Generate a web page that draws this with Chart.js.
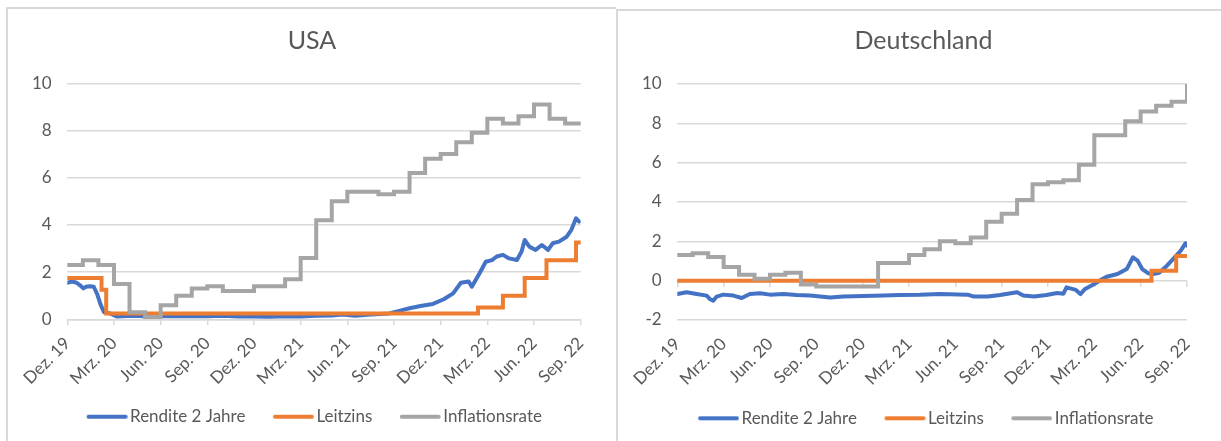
<!DOCTYPE html>
<html lang="de">
<head>
<meta charset="utf-8">
<title>Rendite, Leitzins und Inflation: USA und Deutschland</title>
<script src="https://cdn.jsdelivr.net/npm/chart.js@4.4.1/dist/chart.umd.min.js"></script>
<style>
  html, body { margin: 0; padding: 0; background: #fff; width: 1221px; height: 441px; overflow: hidden; }
  .panel { position: absolute; border: 0 solid #d9d9d9; background: #fff; }
  #panel-usa { left: 6px; top: 7px; border-width: 2px 0 0 2px; }
  #panel-de { left: 616px; top: 9px; border-width: 2px 0 0 2px; }
  canvas { display: block; }
</style>
</head>
<body>
<div class="panel" id="panel-usa"><canvas id="chart-usa" width="608" height="432"></canvas></div>
<div class="panel" id="panel-de"><canvas id="chart-de" width="611" height="430"></canvas></div>
<script>
// x values are months counted from the "Dez. 19" tick
const tickLabels = ['Dez. 19', 'Mrz. 20', 'Jun. 20', 'Sep. 20', 'Dez. 20', 'Mrz. 21',
  'Jun. 21', 'Sep. 21', 'Dez. 21', 'Mrz. 22', 'Jun. 22', 'Sep. 22'];
const seriesNames = ['Rendite 2 Jahre', 'Leitzins', 'Inflationsrate'];
const monthSteps = [0, 1, 2, 3, 4, 5, 6, 7, 8, 9, 10, 11, 12, 13, 14, 15, 16, 17, 18, 19, 20,
  21, 22, 23, 24, 25, 26, 27, 28, 29, 30, 31, 32, 33];

// USA
const usaYieldMonths = [0, 0.3, 0.6, 0.8, 1.03, 1.2, 1.46, 1.7, 1.93, 2.14, 2.36, 2.74, 3.17, 4.2,
  5, 6, 7, 8, 9, 10, 11, 12, 13, 14, 15, 16, 17, 17.7, 18.5, 19.5, 20.7, 21.4, 22, 22.7, 23.5,
  24.2, 24.8, 25.3, 25.8, 26, 26.5, 26.9, 27.3, 27.6, 28, 28.4, 28.9, 29.2, 29.4, 29.7, 30.1,
  30.5, 30.9, 31.2, 31.6, 32.1, 32.4, 32.7, 32.9];
const usaYield = [1.55, 1.6, 1.55, 1.45, 1.31, 1.38, 1.4, 1.38, 1.05, 0.62, 0.3, 0.25, 0.12, 0.15,
  0.13, 0.14, 0.13, 0.14, 0.13, 0.15, 0.12, 0.12, 0.11, 0.13, 0.12, 0.15, 0.16, 0.2, 0.15, 0.2,
  0.25, 0.37, 0.47, 0.56, 0.65, 0.85, 1.1, 1.55, 1.6, 1.38, 1.95, 2.44, 2.51, 2.66, 2.73, 2.58,
  2.51, 2.87, 3.36, 3.08, 2.94, 3.15, 2.94, 3.22, 3.29, 3.5, 3.79, 4.28, 4.14];
const usaRateMonths = [0, 2.2, 2.5, 26.4, 28, 29.4, 30.8, 32.7, 33];
const usaRate = [1.75, 1.25, 0.25, 0.5, 1.0, 1.75, 2.5, 3.25, 3.25];
const usaInflation = [2.3, 2.5, 2.3, 1.5, 0.3, 0.1, 0.6, 1.0, 1.3, 1.4, 1.2, 1.2, 1.4, 1.4, 1.7,
  2.6, 4.2, 5.0, 5.4, 5.4, 5.3, 5.4, 6.2, 6.8, 7.0, 7.5, 7.9, 8.5, 8.3, 8.6, 9.1, 8.5, 8.3, 8.3];

// Deutschland
const deYieldMonths = [0, 0.6, 1.25, 1.9, 2.1, 2.33, 2.55, 2.98, 3.63, 4.17, 4.7, 5.36, 6, 6.87,
  7.73, 8.6, 9.9, 10.76, 12.05, 13.35, 14.4, 15.7, 17, 18.8, 19.2, 20.1, 20.9, 22, 22.4, 23.1,
  23.9, 24.6, 25, 25.2, 25.8, 26.1, 26.4, 27, 27.4, 27.8, 28.5, 29.1, 29.5, 29.8, 30.1, 30.5,
  30.8, 31.2, 31.7, 32.1, 32.6, 32.9, 33];
const deYield = [-0.68, -0.59, -0.68, -0.76, -0.93, -1.02, -0.81, -0.71, -0.76, -0.88, -0.68,
  -0.64, -0.71, -0.68, -0.73, -0.76, -0.85, -0.81, -0.78, -0.76, -0.73, -0.72, -0.68, -0.71,
  -0.81, -0.8, -0.73, -0.59, -0.76, -0.81, -0.73, -0.63, -0.66, -0.34, -0.47, -0.68, -0.42,
  -0.17, 0.03, 0.2, 0.34, 0.59, 1.19, 1.02, 0.59, 0.37, 0.34, 0.4, 0.76, 1.1, 1.53, 1.9, 1.78];
const deRateMonths = [0, 30.7, 32.3, 33];
const deRate = [0, 0.5, 1.25, 1.25];
const deInflation = [1.3, 1.4, 1.2, 0.7, 0.3, 0.1, 0.3, 0.4, -0.2, -0.3, -0.3, -0.3, -0.3, 0.9,
  0.9, 1.3, 1.6, 2.0, 1.9, 2.2, 3.0, 3.4, 4.1, 4.9, 5.0, 5.1, 5.9, 7.4, 7.4, 8.1, 8.6, 8.9, 9.1,
  10.0];

const TEXT = '#595959';
const GRID = '#d9d9d9';
const FONT = 'Lato, "Open Sans", sans-serif';
const FONT_SIZE = 17;

// legend swatch: blank lead-in, then a 41px line ending 2.5px before the label
const LEGEND_PAD = 23;
const LEGEND_LEAD = 4.5;
const LEGEND_LINE = 41;
const LEGEND_BOX = LEGEND_LEAD + LEGEND_LINE + 2.5 - FONT_SIZE / 2;

function legendSwatch(color) {
  const half = Math.max(LEGEND_LEAD + LEGEND_LINE - LEGEND_BOX / 2, LEGEND_BOX / 2 - LEGEND_LEAD);
  const c = document.createElement('canvas');
  c.width = Math.ceil(half * 2);
  c.height = 8;
  const start = c.width / 2 - LEGEND_BOX / 2 + LEGEND_LEAD;
  const ctx = c.getContext('2d');
  ctx.strokeStyle = color;
  ctx.lineWidth = 4;
  ctx.lineCap = 'round';
  ctx.beginPath();
  ctx.moveTo(start + 2, 4);
  ctx.lineTo(start + LEGEND_LINE - 2, 4);
  ctx.stroke();
  return c;
}

function points(xs, ys) {
  return xs.map((x, i) => ({ x: x, y: ys[i] }));
}

function buildChart(canvasId, cfg) {
  const font = { family: FONT, size: FONT_SIZE };
  const datasets = [
    { label: seriesNames[0], data: points(cfg.yieldMonths, cfg.yieldValues),
      borderColor: '#4472c4', borderJoinStyle: 'round', order: 3 },
    { label: seriesNames[1], data: points(cfg.rateMonths, cfg.rateValues),
      borderColor: '#ed7d31', stepped: 'before', order: 2 },
    { label: seriesNames[2], data: points(monthSteps, cfg.inflation),
      borderColor: '#a5a5a5', stepped: 'before', order: 1 },
  ];
  datasets.forEach((ds) => {
    ds.backgroundColor = ds.borderColor;
    ds.borderWidth = 4;
    ds.borderCapStyle = 'round';
    ds.pointRadius = 0;
    ds.pointHoverRadius = 0;
    ds.pointStyle = legendSwatch(ds.borderColor);
  });

  const scales = {
    x: {
      type: 'linear',
      min: 0,
      max: 33,
      ticks: {
        stepSize: 3,
        autoSkip: false,
        minRotation: 45,
        maxRotation: 45,
        padding: 8,
        color: TEXT,
        font: font,
        callback: (v) => tickLabels[Math.round(v / 3)],
      },
      grid: {
        drawOnChartArea: false,
        tickLength: 6,
        lineWidth: 1.5,
        color: GRID,
        tickColor: cfg.axisAtZero ? 'rgba(0,0,0,0)' : GRID,
      },
      border: { display: !cfg.axisAtZero, color: GRID, width: 1.5 },
      afterFit: (s) => { s.height = cfg.xHeight; },
    },
    y: {
      type: 'linear',
      min: cfg.yMin,
      max: 10,
      ticks: { stepSize: 2, padding: 15.6, color: TEXT, font: font },
      grid: { color: GRID, lineWidth: 1.5, drawTicks: false },
      border: { display: false },
      afterFit: (s) => { s.width = 59.3; },
    },
    yGap: {
      type: 'linear',
      position: 'right',
      ticks: { display: false },
      grid: { display: false },
      border: { display: false },
      afterFit: (s) => { s.width = cfg.rightGap; },
    },
  };
  if (cfg.axisAtZero) {
    scales.x2 = {
      type: 'linear',
      axis: 'x',
      position: { y: 0 },
      min: 0,
      max: 33,
      ticks: { display: false, stepSize: 3 },
      grid: { drawOnChartArea: false, tickLength: 6, lineWidth: 1.5, color: GRID },
      border: { display: false },
    };
  }

  return new Chart(document.getElementById(canvasId), {
    type: 'line',
    data: { datasets: datasets },
    options: {
      responsive: false,
      animation: false,
      events: [],
      layout: { padding: { left: 0, right: 0, top: 0, bottom: cfg.bottomPad } },
      scales: scales,
      plugins: {
        title: {
          display: true,
          text: cfg.title,
          color: TEXT,
          font: { family: FONT, size: 25, weight: 'normal' },
          padding: { top: cfg.titleTop, bottom: cfg.titleBottom },
        },
        legend: {
          position: 'bottom',
          labels: {
            usePointStyle: true,
            pointStyleWidth: LEGEND_BOX,
            padding: LEGEND_PAD,
            color: TEXT,
            font: font,
            sort: (a, b) => a.datasetIndex - b.datasetIndex,
          },
        },
        tooltip: { enabled: false },
      },
    },
  });
}

buildChart('chart-usa', {
  title: 'USA',
  yieldMonths: usaYieldMonths, yieldValues: usaYield,
  rateMonths: usaRateMonths, rateValues: usaRate,
  inflation: usaInflation,
  yMin: 0, axisAtZero: false,
  titleTop: 17, titleBottom: 27.3, xHeight: 65.9, rightGap: 35.3, bottomPad: 5.8,
});

buildChart('chart-de', {
  title: 'Deutschland',
  yieldMonths: deYieldMonths, yieldValues: deYield,
  rateMonths: deRateMonths, rateValues: deRate,
  inflation: deInflation,
  yMin: -2, axisAtZero: true,
  titleTop: 15.4, titleBottom: 27.6, xHeight: 66.8, rightGap: 42, bottomPad: 4.2,
});
</script>
</body>
</html>
